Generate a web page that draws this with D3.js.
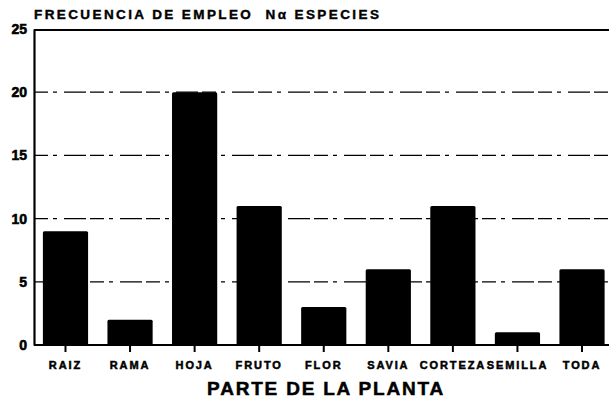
<!DOCTYPE html>
<html>
<head>
<meta charset="utf-8">
<script src="https://cdn.jsdelivr.net/npm/d3@7"></script>
<style>
  body { margin: 0; background: #fff; }
  svg text { font-family: "Liberation Sans", Arial, sans-serif; font-weight: bold; fill: #000; }
</style>
</head>
<body>
<div id="chart"></div>
<script>
const categories = ["RAIZ", "RAMA", "HOJA", "FRUTO", "FLOR", "SAVIA", "CORTEZA", "SEMILLA", "TODA"];
const species = [9, 2, 20, 11, 3, 6, 11, 1, 6];
const yTicks = [0, 5, 10, 15, 20, 25];

const width = 609;
const height = 400;
const margin = { top: 29, right: 0, bottom: 55, left: 34 };

const svg = d3
  .select("#chart")
  .append("svg")
  .attr("width", width)
  .attr("height", height);

const x = d3
  .scaleBand()
  .domain(categories)
  .range([33.2, 614.3])
  .paddingInner(0.3)
  .paddingOuter(0.15);

const y = d3
  .scaleLinear()
  .domain([0, 25])
  .range([345, margin.top]);

// broken grid lines
svg
  .append("g")
  .selectAll("line")
  .data(yTicks.filter((d) => d > 0 && d < 25))
  .enter()
  .append("line")
  .attr("x1", margin.left)
  .attr("x2", width)
  .attr("y1", (d) => y(d))
  .attr("y2", (d) => y(d))
  .attr("stroke", "#000")
  .attr("stroke-width", 1.3)
  .attr("stroke-dasharray", "14,5,4,7,22,4");

// top line
svg
  .append("line")
  .attr("x1", margin.left)
  .attr("x2", width)
  .attr("y1", y(25) + 1)
  .attr("y2", y(25) + 1)
  .attr("stroke", "#000")
  .attr("stroke-width", 2);

// bars
svg
  .append("g")
  .selectAll("rect")
  .data(species)
  .enter()
  .append("rect")
  .attr("x", (d, i) => x(categories[i]))
  .attr("y", (d) => y(d))
  .attr("width", x.bandwidth())
  .attr("height", (d) => y(0) - y(d))
  .attr("rx", 1.5)
  .attr("fill", "#000");

// x axis
const xAxis = svg
  .append("g")
  .attr("transform", `translate(0,${y(0)})`)
  .call(d3.axisBottom(x).tickSize(7).tickPadding(9))
  .call((g) => g.select(".domain").attr("d", `M${margin.left},0H${width}`).attr("stroke-width", 2));

xAxis.selectAll(".tick line").attr("stroke-width", 2);
xAxis
  .selectAll(".tick text")
  .attr("font-size", 11)
  .attr("letter-spacing", 1.9)
  .style("font-family", '"Liberation Sans", Arial, sans-serif')
  .style("font-weight", "bold")
  .attr("stroke", "#000")
  .attr("stroke-width", 0.5);

// y axis
const yAxis = svg
  .append("g")
  .attr("transform", `translate(${margin.left},0)`)
  .call(d3.axisLeft(y).tickValues(yTicks).tickSize(0).tickPadding(7))
  .call((g) => g.select(".domain").attr("stroke-width", 2.2));

yAxis
  .selectAll(".tick text")
  .attr("font-size", 14)
  .style("font-family", '"Liberation Sans", Arial, sans-serif')
  .style("font-weight", "bold")
  .attr("stroke", "#000")
  .attr("stroke-width", 0.6);

// titles
svg
  .append("text")
  .attr("x", 34)
  .attr("y", 19)
  .attr("font-size", 13.5)
  .attr("letter-spacing", 2.4)
  .attr("stroke", "#000")
  .attr("stroke-width", 0.4)
  .text("FRECUENCIA DE EMPLEO\u00a0\u00a0Nα ESPECIES");

svg
  .append("text")
  .attr("x", 326)
  .attr("y", 395)
  .attr("text-anchor", "middle")
  .attr("font-size", 19)
  .attr("letter-spacing", 1.8)
  .attr("stroke", "#000")
  .attr("stroke-width", 0.5)
  .text("PARTE DE LA PLANTA");
</script>
</body>
</html>
